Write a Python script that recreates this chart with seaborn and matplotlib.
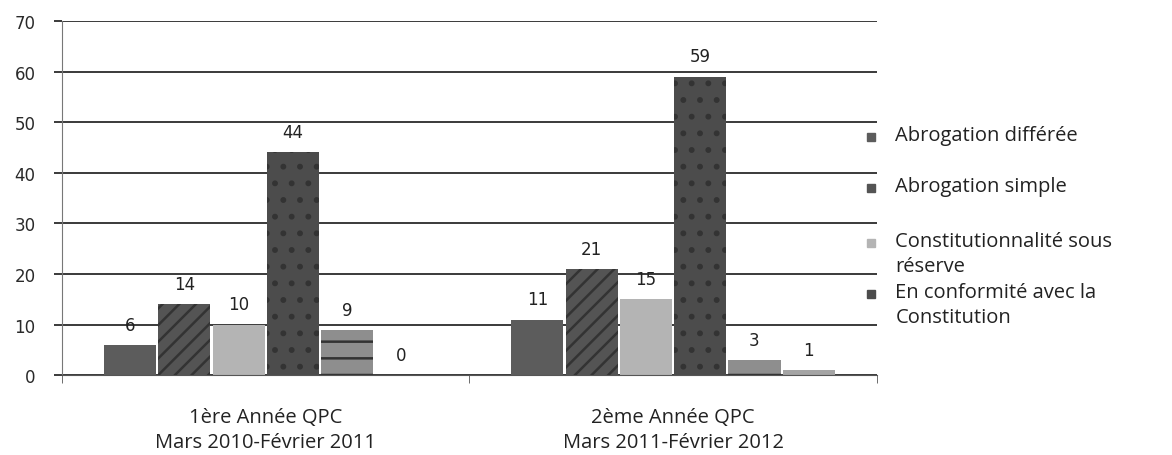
import pandas as pd
import matplotlib
matplotlib.use("Agg")
import matplotlib.pyplot as plt
from matplotlib.patches import Rectangle
import seaborn as sns

# données
annees = ["1ère Année QPC\nMars 2010-Février 2011", "2ème Année QPC\nMars 2011-Février 2012"]
series = ["Abrogation différée", "Abrogation simple",
          "Constitutionnalité sous\nréserve", "En conformité avec la\nConstitution",
          "Série 5", "Série 6"]
abrogation_differee = [6, 11]
abrogation_simple = [14, 21]
sous_reserve = [10, 15]
conformite = [44, 59]
serie_5 = [9, 3]
serie_6 = [0, 1]
legende = series[:4]

valeurs = [abrogation_differee, abrogation_simple, sous_reserve, conformite, serie_5, serie_6]
rows = []
for nom, vals in zip(series, valeurs):
    for annee, v in zip(annees, vals):
        rows.append({"annee": annee, "serie": nom, "valeur": v})
df = pd.DataFrame(rows)

couleurs = ["#5c5c5c", "#545454", "#b4b4b4", "#4c4c4c", "#8e8e8e", "#a4a4a4"]
hachures = ["", "//", "", ".", "-", ""]

sns.set_style("white")
plt.rcParams["hatch.linewidth"] = 1.8
plt.rcParams["hatch.color"] = "#111111"

fig = plt.figure(figsize=(11.72, 4.56), dpi=100)
ax = fig.add_axes([0.053, 0.175, 0.695, 0.777])

sns.barplot(data=df, x="annee", y="valeur", hue="serie", hue_order=series,
            palette=couleurs, width=0.8, gap=0.04, saturation=1,
            edgecolor="none", legend=False, ax=ax)

for cont, h in zip(ax.containers, hachures):
    for barre in cont:
        barre.set_hatch(h)
        barre.set_edgecolor("#333333" if h else "none")
        barre.set_linewidth(0)
    ax.bar_label(cont, padding=8, fontsize=12, color="#222222",
                 family="DejaVu Sans")

ax.set_ylim(0, 70)
ax.set_xlim(-0.5, 1.5)
ax.set_yticks(range(0, 71, 10))
ax.yaxis.grid(True, color="#3a3a3a", linewidth=1.4)
ax.set_axisbelow(True)
ax.set_xlabel("")
ax.set_ylabel("")
for s in ["top", "right"]:
    ax.spines[s].set_visible(False)
ax.spines["left"].set_color("#777777")
ax.spines["bottom"].set_color("#555555")
ax.tick_params(axis="y", left=True, length=6, width=1.4, color="#3a3a3a",
               labelsize=12, labelcolor="#2a2a2a", pad=13)
ax.set_xticks([-0.5, 0.5, 1.5], minor=True)
ax.tick_params(axis="x", which="minor", bottom=True, length=6, color="#555555",
               direction="out")
ax.tick_params(axis="x", which="major", length=0, pad=23)
for lab in ax.get_xticklabels():
    lab.set_fontfamily(["Open Sans", "DejaVu Sans"])
    lab.set_fontsize(14.5)
    lab.set_color("#222222")
    lab.set_linespacing(1.3)

# légende (seules les quatre premières séries sont visibles)
y_leg = [0.700, 0.588, 0.467, 0.355]
for nom, c, y in zip(legende, couleurs, y_leg):
    fig.add_artist(Rectangle((0.740, y - 0.011), 0.0065, 0.018,
                             transform=fig.transFigure, color=c))
    fig.text(0.764, y + 0.024, nom, fontsize=14.5, family=["Open Sans", "DejaVu Sans"],
             color="#222222", va="top", linespacing=1.35)

fig.savefig("out.png", dpi=100)
